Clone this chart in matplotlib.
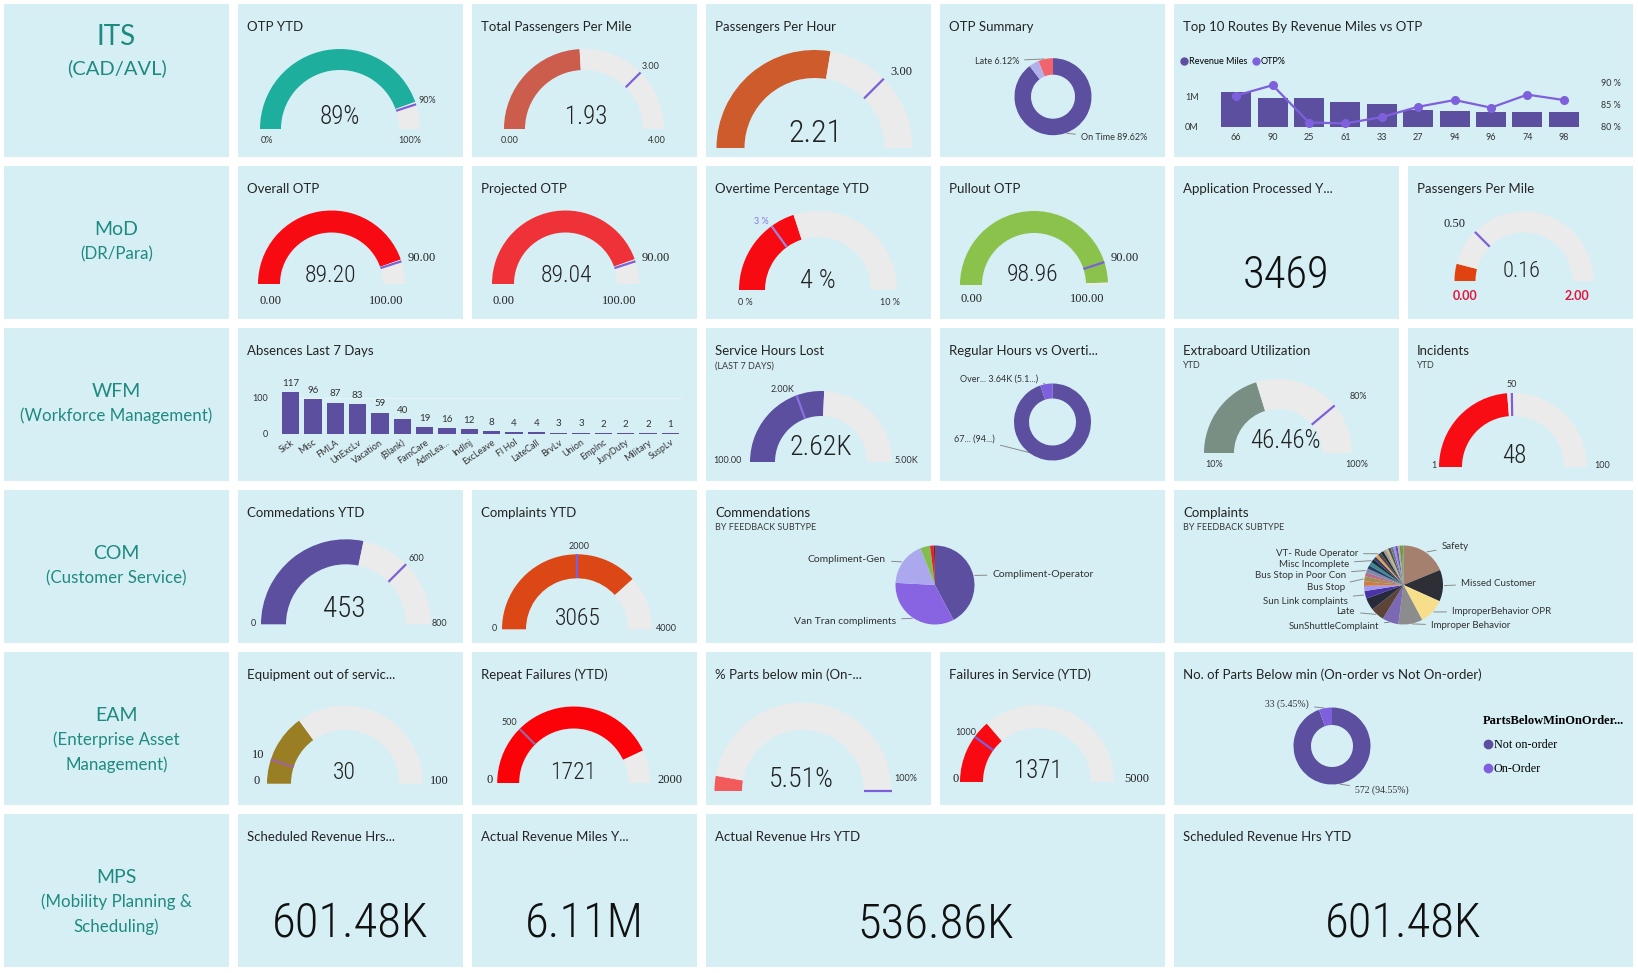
import numpy as np
import matplotlib
matplotlib.use('Agg')
import matplotlib.pyplot as plt
from matplotlib import font_manager as fm
from matplotlib.lines import Line2D
from matplotlib.patches import Wedge

# ---------------- data ----------------
section_names = ['ITS', 'MoD', 'WFM', 'COM', 'EAM', 'MPS']
section_subs = [['(CAD/AVL)'], ['(DR/Para)'], ['(Workforce Management)'], ['(Customer Service)'],
                ['(Enterprise Asset', 'Management)'], ['(Mobility Planning &', 'Scheduling)']]

gauge_titles = ['OTP YTD', 'Total Passengers Per Mile', 'Passengers Per Hour', 'Overall OTP',
                'Projected OTP', 'Overtime Percentage YTD', 'Pullout OTP', 'Passengers Per Mile',
                'Service Hours Lost', 'Extraboard Utilization', 'Incidents', 'Commedations YTD',
                'Complaints YTD', 'Equipment out of servic...', 'Repeat Failures (YTD)',
                '% Parts below min (On-...', 'Failures in Service (YTD)']
gauge_subtitles = [None, None, None, None, None, None, None, None, '(LAST 7 DAYS)', 'YTD', 'YTD',
                   None, None, None, None, None, None]
gauge_values = [89, 1.93, 2.21, 89.20, 89.04, 4, 98.96, 0.16, 2620, 46.46, 48, 453, 3065, 30, 1721, 5.51, 1371]
gauge_min = [0, 0, 0, 0, 0, 0, 0, 0, 100, 10, 1, 0, 0, 0, 0, 0, 0]
gauge_max = [100, 4, 4, 100, 100, 10, 100, 2, 5000, 100, 100, 800, 4000, 100, 2000, 100, 5000]
gauge_target = [90, 3, 3, 90, 90, 3, 90, 0.5, 2000, 80, 50, 600, 2000, 10, 500, 100, 1000]
gauge_value_text = ['89%', '1.93', '2.21', '89.20', '89.04', '4 %', '98.96', '0.16', '2.62K', '46.46%',
                    '48', '453', '3065', '30', '1721', '5.51%', '1371']
gauge_min_text = ['0%', '0.00', None, '0.00', '0.00', '0 %', '0.00', '0.00', '100.00', '10%', '1', '0',
                  '0', '0', '0', None, '0']
gauge_max_text = ['100%', '4.00', None, '100.00', '100.00', '10 %', '100.00', '2.00', '5.00K', '100%',
                  '100', '800', '4000', '100', '2000', None, '5000']
gauge_target_text = ['90%', '3.00', '3.00', '90.00', '90.00', '3 %', '90.00', '0.50', '2.00K', '80%',
                     '50', '600', '2000', '10', '500', '100%', '1000']

route_names = ['66', '90', '25', '61', '33', '27', '94', '96', '74', '98']
route_rev_miles = [1.14e6, 0.96e6, 0.96e6, 0.81e6, 0.75e6, 0.55e6, 0.53e6, 0.51e6, 0.51e6, 0.49e6]
route_otp = [87.0, 89.3, 81.0, 80.8, 82.2, 84.5, 86.0, 84.3, 87.2, 86.0]

otp_summary_labels = ['On Time', 'Early', 'Late']
otp_summary_pct = [89.62, 4.26, 6.12]

absence_types = ['Sick', 'Misc', 'FMLA', 'UnExcLv', 'Vacation', '(Blank)', 'FamCare', 'AdmLea...',
                 'IndInj', 'ExcLeave', 'Fl Hol', 'LateCall', 'BrvLv', 'Union', 'EmpInc', 'JuryDuty',
                 'Military', 'SuspLv']
absence_counts = [117, 96, 87, 83, 59, 40, 19, 16, 12, 8, 4, 4, 3, 3, 2, 2, 2, 1]

reg_ot_hours = [67360, 3640]
reg_ot_text = ['67... (94...)', 'Over... 3.64K (5.1...)']

commend_types = ['Compliment-Operator', 'Van Tran compliments', 'Compliment-Gen', '', '', '']
commend_share = [42.0, 33.5, 18.0, 4.0, 1.5, 0.5]

complaint_types = ['Safety', 'Missed Customer', 'ImproperBehavior OPR', 'Improper Behavior',
                   'SunShuttleComplaint', 'Late', '', 'Sun Link complaints', '', '', 'Bus Stop', '',
                   'Bus Stop in Poor Con', '', '', 'Misc Incomplete', '', '', 'VT- Rude Operator',
                   '', '', '', '', '', '', '', '', '', '']
complaint_share = [18.0, 12.4, 10.0, 9.5, 6.4, 5.4, 4.8, 3.0, 2.0, 1.8, 2.0, 1.5, 1.6, 1.4, 1.5, 1.4,
                   1.3, 1.1, 1.3, 1.2, 1.1, 1.0, 1.0, 1.0, 0.9, 0.9, 0.8, 0.8, 0.7]

parts_labels = ['Not on-order', 'On-Order']
parts_counts = [572, 33]

kpi_titles = ['Application Processed Y...', 'Scheduled Revenue Hrs...', 'Actual Revenue Miles Y...',
              'Actual Revenue Hrs YTD', 'Scheduled Revenue Hrs YTD']
kpi_values = ['3469', '601.48K', '6.11M', '536.86K', '601.48K']

# ---------------- styling ----------------
TILE = '#D6EFF5'
GREY = '#EBEBEB'
PURPLE = '#5C4F9F'
VIOLET = '#7E60DC'
TARGET = '#7B61D9'
MAUVE = '#A0649F'
TXT = '#252423'
TEAL_TXT = '#1F8A80'

SANS = ['Lato', 'DejaVu Sans']
SERIF = ['Liberation Serif', 'DejaVu Serif']
avail = {f.name for f in fm.fontManager.ttflist}
NUM = [f for f in ['Roboto Condensed Light', 'Roboto Condensed', 'Liberation Sans Narrow', 'Roboto']
       if f in avail][:1] + ['DejaVu Sans']
plt.rcParams['font.family'] = SANS

W, H = 1638, 973
fig = plt.figure(figsize=(W / 100, H / 100), dpi=100)
fig.patch.set_facecolor('white')


def px_axes(left, top, width, height):
    return fig.add_axes([left / W, 1 - (top + height) / H, width / W, height / H])


def tile(col, row, span=1):
    x0 = 4 + 234 * col
    y0 = 4 + 162 * row
    w = 225 + 234 * (span - 1)
    ax = px_axes(x0, y0, w, 153)
    ax.set_xlim(0, w)
    ax.set_ylim(153, 0)
    ax.set_facecolor(TILE)
    ax.set_xticks([])
    ax.set_yticks([])
    for s in ax.spines.values():
        s.set_visible(False)
    return ax, x0, y0


def put(ax, x, y, s, size=9, ha='center', family=SANS, color=TXT, weight='normal'):
    # y is the visual middle of the cap height
    ax.text(x, y + 0.5 * size, s, fontsize=size, ha=ha, va='baseline', family=family,
            color=color, fontweight=weight)


def title(ax, text, sub=None):
    put(ax, 9, 22, text, 9.5, ha='left')
    if sub:
        put(ax, 9, 37, sub, 6.5, ha='left', color='#3a3a3a')


LAB = {
    'small': dict(size=6.5, family=SANS, color='#333333'),
    'serif': dict(size=9, family=SERIF, color='#222222'),
    'bold': dict(size=9, family=SANS, color='#E0163C', weight='bold'),
    'lav': dict(size=6.5, family=SANS, color='#8E7BE0'),
}

# col, row, cx, cy, R, r_in, colour, value pos, value size, min pos, max pos, target pos,
# min/max style, target style, target line colour
gauge_layout = [
    (1, 0, 102, 125, 80, 59, '#1DAE9E', (102, 111), 18, (28.5, 136), (172, 136), (189, 96), 'small', 'small', TARGET),
    (2, 0, 112, 125, 80, 59, '#CC5C4B', (114, 111), 18, (38, 136), (185, 136), (179, 62), 'small', 'small', TARGET),
    (3, 0, 108.5, 144, 98, 70, '#CD5B2C', (109, 126), 23, None, None, (195.5, 66.7), 'small', 'serif', TARGET),
    (1, 1, 93.5, 118, 73.5, 51.5, '#F80A12', (93, 107), 17, (32, 133), (148, 133), (184, 90.7), 'serif', 'serif', TARGET),
    (2, 1, 93.5, 118, 73.5, 51.5, '#EE3237', (94, 107), 17, (31.6, 133), (147.6, 133), (184, 90.7), 'serif', 'serif', TARGET),
    (3, 1, 112, 124, 79, 53, '#F80A12', (112, 112), 19, (39, 135.7), (184, 135.7), (55.6, 55), 'small', 'lav', '#9A86E0'),
    (4, 1, 94, 119, 74, 52, '#8BC24C', (93, 106.7), 17, (32, 132), (147.6, 132), (184.6, 90.7), 'serif', 'serif', TARGET),
    (6, 1, 116, 115, 69.5, 48.5, '#E0430F', (114, 103), 16, (57.6, 129), (169, 129), (46.8, 56.7), 'bold', 'serif', TARGET),
    (3, 2, 115, 134, 71, 46, PURPLE, (115, 117), 20, (21, 132), (200, 132), (76.5, 60.7), 'small', 'small', '#8B6FE0'),
    (5, 2, 104, 125, 74, 44, '#7A8F83', (111, 111), 18, (40, 135.7), (182.7, 135.7), (184, 68), 'small', 'small', TARGET),
    (6, 2, 105, 139, 74, 51, '#F90D15', (106.6, 125.7), 18, (26, 137), (194, 137), (103.6, 55.7), 'small', 'small', TARGET),
    (1, 3, 108, 134.3, 85, 60, PURPLE, (106.6, 116.7), 21, (15, 132.7), (201.7, 132.7), (178, 67.7), 'small', 'small', TARGET),
    (2, 3, 105, 139.3, 75, 51, '#DC4716', (106, 126.7), 17, (22.6, 137.7), (194, 137.7), (107.5, 56), 'small', 'small', TARGET),
    (1, 4, 107, 131.7, 78, 54, '#9A7E24', (106.6, 118.3), 17, (18.7, 127.7), (201.7, 127.7), (20, 101.7), 'serif', 'serif', MAUVE),
    (2, 4, 101.7, 131, 76.5, 54.5, '#FA0208', (100.8, 118.3), 17, (17.7, 126.7), (197.6, 126.7), (37, 70), 'serif', 'small', MAUVE),
    (3, 4, 97, 139, 88.5, 61, '#F25A5C', (95.7, 125), 20, None, None, (200, 125.7), 'small', 'small', TARGET),
    (4, 4, 97, 130, 77, 54, '#F90A12', (98, 116.7), 18, (16, 125.7), (196.6, 125.7), (26, 79.3), 'serif', 'small', TARGET),
]

# ---------------- section label tiles ----------------
for r, name in enumerate(section_names):
    ax, x0, y0 = tile(0, r)
    if r == 0:
        put(ax, 112.5, 31, name, 20, color=TEAL_TXT)
        put(ax, 112.5, 62.5, section_subs[r][0], 14.5, color=TEAL_TXT)
    else:
        put(ax, 112.5, 62, name, 14, color=TEAL_TXT)
        for j, line in enumerate(section_subs[r]):
            put(ax, 112.5, 87 + 24.5 * j, line, 12.2, color=TEAL_TXT)

# ---------------- gauges ----------------
for k, lay in enumerate(gauge_layout):
    col, row, cx, cy, R, r_in, color, vpos, vsize, mpos, Mpos, tpos, mst, tst, tcol = lay
    ax, x0, y0 = tile(col, row)
    title(ax, gauge_titles[k], gauge_subtitles[k])
    lo, hi = gauge_min[k], gauge_max[k]
    f = min(max((gauge_values[k] - lo) / (hi - lo), 0), 1)
    ft = (gauge_target[k] - lo) / (hi - lo)
    a = 180 + 180 * f
    ax.add_patch(Wedge((cx, cy), R, 180, a, width=R - r_in, facecolor=color, lw=0))
    ax.add_patch(Wedge((cx, cy), R, a, 360, width=R - r_in, facecolor=GREY, lw=0))
    t = np.radians(180 + 180 * ft)
    ax.plot([cx + r_in * np.cos(t), cx + R * np.cos(t)], [cy + r_in * np.sin(t), cy + R * np.sin(t)],
            color=tcol, lw=1.6, solid_capstyle='butt')
    put(ax, vpos[0], vpos[1], gauge_value_text[k], vsize, family=NUM, color='#222222', weight='light')
    if mpos is not None:
        put(ax, mpos[0], mpos[1], gauge_min_text[k], **LAB[mst])
        put(ax, Mpos[0], Mpos[1], gauge_max_text[k], **LAB[mst])
    put(ax, tpos[0], tpos[1], gauge_target_text[k], **LAB[tst])

# ---------------- KPI cards ----------------
kpi_layout = [(5, 1, 1, 105.5, 32), (1, 5, 1, 105.7, 35), (2, 5, 1, 105.7, 35),
              (3, 5, 2, 105.7, 35), (5, 5, 2, 105.7, 35)]
for k, (col, row, span, vy, size) in enumerate(kpi_layout):
    ax, x0, y0 = tile(col, row, span)
    title(ax, kpi_titles[k])
    put(ax, (225 + 234 * (span - 1)) / 2, vy, kpi_values[k], size, family=NUM, color='#111111',
        weight='light')


def pie_axes(x0, y0, cx, cy, R):
    return px_axes(x0 + cx - R, y0 + cy - R, 2 * R, 2 * R)


def pie_label(tax, pax, vals, i, text, tx, ty, ha, size=6.5, family=SANS):
    tot = float(sum(vals))
    mid = 2 * np.pi * (sum(vals[:i]) + vals[i] / 2) / tot
    tax.annotate(text, xy=(1.0 * np.sin(mid), 1.0 * np.cos(mid)), xycoords=pax.transData,
                 xytext=(tx, ty), textcoords=tax.transData, ha=ha, va='center', fontsize=size,
                 family=family, color='#333333',
                 arrowprops=dict(arrowstyle='-', color='#8a8a8a', lw=0.7, shrinkA=2, shrinkB=1))


def finish_pie(pax):
    pax.set_xlim(-1, 1)
    pax.set_ylim(-1, 1)
    pax.set_aspect('equal')
    pax.axis('off')


# ---------------- OTP summary donut ----------------
ax, x0, y0 = tile(4, 0)
title(ax, 'OTP Summary')
pax = pie_axes(x0, y0, 113, 92.7, 38.5)
pax.pie(otp_summary_pct, colors=[PURPLE, '#B3AFEA', '#F2646B'], startangle=90, counterclock=False,
        wedgeprops=dict(width=1 - 22 / 38.5, linewidth=0))
finish_pie(pax)
pie_label(ax, pax, otp_summary_pct, 2, f'{otp_summary_labels[2]} {otp_summary_pct[2]:.2f}%', 79, 57, 'right')
pie_label(ax, pax, otp_summary_pct, 0, f'{otp_summary_labels[0]} {otp_summary_pct[0]:.2f}%', 141, 134, 'left')

# ---------------- Top 10 routes ----------------
ax, x0, y0 = tile(5, 0, 2)
title(ax, 'Top 10 Routes By Revenue Miles vs OTP')
axb = px_axes(x0 + 44, y0 + 74, 364, 49)
xs = np.arange(len(route_names))
axb.bar(xs, route_rev_miles, width=0.82, color=PURPLE)
axb.set_xlim(-0.5, len(route_names) - 0.5)
axb.set_ylim(0, 1.617e6)
axb.set_yticks([0, 1e6], ['0M', '1M'])
axb.set_xticks(xs, route_names)
axb.tick_params(length=0, labelsize=6.5, labelcolor='#333333')
axb.tick_params(axis='x', pad=4)
axb.tick_params(axis='y', pad=14)
ax2 = axb.twinx()
ax2.plot(xs, route_otp, color=VIOLET, marker='o', ms=5.5, lw=1.6, clip_on=False)
ax2.set_ylim(80, 90.9)
ax2.set_yticks([80, 85, 90], ['80 %', '85 %', '90 %'])
ax2.tick_params(length=0, labelsize=6.5, labelcolor='#333333', pad=14)
for a_ in (axb, ax2):
    a_.set_facecolor('none')
    for s in a_.spines.values():
        s.set_visible(False)
handles = [Line2D([], [], ls='', marker='o', ms=5, color=PURPLE),
           Line2D([], [], ls='', marker='o', ms=5, color=VIOLET)]
ax.legend(handles, ['Revenue Miles', 'OTP%'], loc='center left', bbox_to_anchor=(6, 57.7),
          bbox_transform=ax.transData, frameon=False, ncol=2, fontsize=6.5, handletextpad=0.1,
          columnspacing=0.5, handlelength=0.9, borderpad=0, borderaxespad=0)

# ---------------- Absences ----------------
ax, x0, y0 = tile(1, 2, 2)
title(ax, 'Absences Last 7 Days')
axa = px_axes(279.4, 378, 402.2, 55.7)
xa = np.arange(len(absence_types))
bars = axa.bar(xa, absence_counts, width=0.78, color=PURPLE, zorder=3)
axa.set_xlim(-0.5, len(absence_types) - 0.5)
axa.set_ylim(0, 156)
axa.bar_label(bars, padding=3, fontsize=7, color='#333333')
axa.set_yticks([0, 100], ['0', '100'])
axa.axhline(100, color='#E6F5F9', lw=0.8, zorder=1)
axa.set_xticks(xa, absence_types, rotation=35, ha='right', rotation_mode='anchor')
axa.tick_params(length=0, labelsize=6.5, labelcolor='#333333')
axa.tick_params(axis='y', pad=8)
axa.tick_params(axis='x', pad=3)
axa.set_facecolor('none')
for s in axa.spines.values():
    s.set_visible(False)

# ---------------- Regular vs overtime donut ----------------
ax, x0, y0 = tile(4, 2)
title(ax, 'Regular Hours vs Overti...')
pax = pie_axes(x0, y0, 112.5, 94, 38.5)
pax.pie(reg_ot_hours, colors=[PURPLE, VIOLET], startangle=90, counterclock=False,
        wedgeprops=dict(width=1 - 23.5 / 38.5, linewidth=0))
finish_pie(pax)
pie_label(ax, pax, reg_ot_hours, 1, reg_ot_text[1], 98, 51.3, 'right')
pie_label(ax, pax, reg_ot_hours, 0, reg_ot_text[0], 55, 110.7, 'right')

# ---------------- Commendations pie ----------------
ax, x0, y0 = tile(3, 3, 2)
title(ax, 'Commendations', 'BY FEEDBACK SUBTYPE')
pax = pie_axes(x0, y0, 229, 95, 39.5)
pax.pie(commend_share, colors=[PURPLE, '#8863E2', '#ABA8EE', '#84BD4F', '#E0242B', '#8C1F1F'],
        startangle=90, counterclock=False, wedgeprops=dict(linewidth=0))
finish_pie(pax)
commend_pos = {'Compliment-Operator': (286.5, 84.3, 'left'), 'Van Tran compliments': (190, 131, 'right'),
               'Compliment-Gen': (180, 69, 'right')}
for i, name in enumerate(commend_types):
    if name in commend_pos:
        tx, ty, ha = commend_pos[name]
        pie_label(ax, pax, commend_share, i, name, tx, ty, ha, size=7.5)

# ---------------- Complaints pie ----------------
ax, x0, y0 = tile(5, 3, 2)
title(ax, 'Complaints', 'BY FEEDBACK SUBTYPE')
pax = pie_axes(x0, y0, 229.5, 95, 39.5)
complaint_colors = ['#A5806F', '#2E2E36', '#F7DE8A', '#8C8C8C', '#7B69B5', '#5C4538', '#262A3A',
                    '#4A34A6', '#A497EC', '#D07A4A', '#A88A52', '#B56C8E', '#7F8AA8', '#2B3F6B',
                    '#3C8A8F', '#1E2F3A', '#3B3B6E', '#E8A14A', '#4A4A58', '#2A2A2A', '#9A9A9A',
                    '#C9B48A', '#555555', '#6D7A8C', '#9C8FE0', '#6A4FB0', '#B0B0B0', '#7F8A3C',
                    '#5FA84A']
pax.pie(complaint_share, colors=complaint_colors, startangle=90, counterclock=False,
        wedgeprops=dict(linewidth=0))
finish_pie(pax)
complaint_pos = {'Safety': (267.6, 56.7, 'left'), 'Missed Customer': (287, 93.3, 'left'),
                 'ImproperBehavior OPR': (278, 121.7, 'left'), 'Improper Behavior': (257, 136, 'left'),
                 'VT- Rude Operator': (184, 63.3, 'right'), 'Misc Incomplete': (175, 74.3, 'right'),
                 'Bus Stop in Poor Con': (172, 85.7, 'right'), 'Bus Stop': (170.7, 97.7, 'right'),
                 'Sun Link complaints': (173.7, 111, 'right'), 'Late': (181, 121.7, 'right'),
                 'SunShuttleComplaint': (204.8, 136.7, 'right')}
for i, name in enumerate(complaint_types):
    if name in complaint_pos:
        tx, ty, ha = complaint_pos[name]
        pie_label(ax, pax, complaint_share, i, name, tx, ty, ha, size=7)

# ---------------- Parts below min donut ----------------
ax, x0, y0 = tile(5, 4, 2)
title(ax, 'No. of Parts Below min (On-order vs Not On-order)')
pax = pie_axes(x0, y0, 158, 94, 38.5)
pax.pie(parts_counts, colors=[PURPLE, VIOLET], startangle=90, counterclock=False,
        wedgeprops=dict(width=1 - 21 / 38.5, linewidth=0))
finish_pie(pax)
tot = sum(parts_counts)
pie_label(ax, pax, parts_counts, 1, f'{parts_counts[1]} ({100 * parts_counts[1] / tot:.2f}%)', 135, 52.3,
          'right', size=7, family=SERIF)
pie_label(ax, pax, parts_counts, 0, f'{parts_counts[0]} ({100 * parts_counts[0] / tot:.2f}%)', 181, 138.3,
          'left', size=7, family=SERIF)
handles = [Line2D([], [], ls='', marker='o', ms=6, color=PURPLE),
           Line2D([], [], ls='', marker='o', ms=6, color=VIOLET)]
leg = ax.legend(handles, parts_labels, loc='upper left', bbox_to_anchor=(309, 63),
                bbox_transform=ax.transData, frameon=False, prop=dict(family=SERIF, size=8.7),
                title='PartsBelowMinOnOrder...', title_fontproperties=dict(family=SERIF, size=9, weight='bold'),
                alignment='left', labelspacing=1.0, handletextpad=0.1, handlelength=0.8,
                borderpad=0, borderaxespad=0)

fig.savefig('out.png', dpi=100, facecolor='white')
